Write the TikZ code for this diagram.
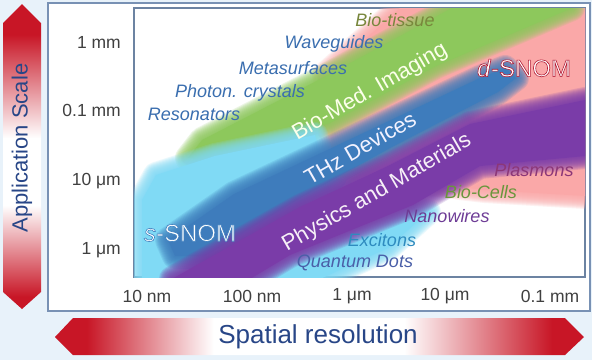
\documentclass[tikz,border=0pt]{standalone}
\usepackage{fontspec}
\setmainfont{Liberation Sans}

\definecolor{fond}{RGB}{232,242,250}
\definecolor{cadre}{RGB}{120,145,180}
\definecolor{rouge}{RGB}{200,22,38}
\definecolor{bleutitre}{RGB}{40,70,135}
\definecolor{rose}{RGB}{250,168,168}
\definecolor{vert}{RGB}{141,200,92}
\definecolor{bleuband}{RGB}{62,124,188}
\definecolor{mauve}{RGB}{122,60,168}
\definecolor{ciel}{RGB}{128,218,245}
\definecolor{bleuex}{RGB}{58,110,175}
\definecolor{olive}{RGB}{120,135,60}
\definecolor{vertex}{RGB}{105,150,60}
\definecolor{mauveex}{RGB}{110,60,150}
\definecolor{prune}{RGB}{140,55,120}

\pgfdeclareverticalshading{flechev}{100bp}{color(0bp)=(rouge); color(27bp)=(rouge);
  color(42bp)=(white); color(53bp)=(white); color(70bp)=(rouge); color(100bp)=(rouge)}
\pgfdeclarehorizontalshading{flecheh}{100bp}{color(0bp)=(rouge); color(28bp)=(rouge);
  color(40bp)=(white); color(58bp)=(white); color(72bp)=(rouge); color(100bp)=(rouge)}

%% texte blanc bordé : \borde{r g b}{texte}
\newcommand\borde[2]{\special{pdf:literal direct 2 Tr 0.6 w #1 RG}#2\special{pdf:literal direct 0 Tr}}

\begin{document}
\begin{tikzpicture}[x=1pt,y=-1pt,
  graduation/.style={font=\fontsize{17.5}{17.5}\selectfont, text=black!75, inner sep=0pt},
  exemple/.style={font=\fontsize{18}{18}\selectfont\itshape, inner sep=0pt},
  domaine/.style={font=\fontsize{22}{22}\selectfont, rotate=30, inner sep=0pt},
  sonde/.style={font=\fontsize{24}{24}\selectfont, text=white, inner sep=0pt},
  titre/.style={font=\fontsize{22}{22}\selectfont, text=bleutitre, inner sep=0pt}]

%% tache floue : \tache{couleur}{(a) -- (b) -- ...}
\newcommand\tache[2]{%
  \foreach \e in {2,4,...,26}
    \draw[#1, line width=\e pt, line join=round, opacity=.16] #2 -- cycle;
  \fill[#1] #2 -- cycle;}

\useasboundingbox (0,0) rectangle (592,360);
\fill[fond] (0,0) rectangle (592,360);

%% ================= cadres =================================================
\draw[cadre, line width=1.2pt, fill=white] (48,3) rectangle (590,311);
\draw[cadre!90!black, line width=1.5pt] (134,8) rectangle (585,277);

%% ================= bandes de couleur ======================================
\begin{scope}
  \clip (134,8) rectangle (585,277);
  \tache{rose}{(325,75) -- (400,8) -- (585,8) -- (585,196) -- (485,190) -- (335,172)}
  \tache{vert}{(188,158) -- (202,140) -- (330,74) -- (452,8) -- (572,8) -- (436,66)
    -- (330,123) -- (250,150) -- (202,160)}
  \tache{ciel}{(142,279) -- (142,200) -- (156,175) -- (215,156) -- (315,135)
    -- (330,190) -- (428,212) -- (388,248) -- (320,279)}
  \tache{bleuband}{(168,240) -- (234,194) -- (480,78) -- (505,68) -- (516,78)
    -- (498,92) -- (390,148) -- (300,198) -- (205,256) -- (175,256)}
  \tache{mauve}{(172,279) -- (300,207) -- (390,165) -- (470,124) -- (585,100)
    -- (585,156) -- (480,166) -- (413,205) -- (290,255) -- (250,279)}
\end{scope}

%% ================= textes des bandes ======================================
\node[domaine, text=green!12!yellow!8] (bio) at (370,92)  {Bio-Med. Imaging};
\node[domaine, text=blue!5]   (thz)  at (360,148) {THz Devices};
\node[domaine, text=violet!6] (phys) at (377,193) {Physics and Materials};
\node[sonde] (ssnom) at (190,233) {\borde{0.25 0.5 0.75}{\textit{s}-SNOM}};
\node[sonde] (dsnom) at (524,68)  {\borde{0.7 0.1 0.2}{\textit{d}-SNOM}};

%% ================= exemples ===============================================
\node[exemple, text=olive]   (tissu) at (395,20)  {Bio-tissue};
\node[exemple, text=bleuex]  (guide) at (334,44)  {Waveguides};
\node[exemple, text=bleuex]  (meta)  at (293,68)  {Metasurfaces};
\node[exemple, text=bleuex]  (crist) at (240,93)  {Photon. crystals};
\node[exemple, text=bleuex]  (reso)  at (194,114) {Resonators};
\node[exemple, text=prune]   (plasm) at (534,170) {Plasmons};
\node[exemple, text=vertex]  (cell)  at (481,192) {Bio-Cells};
\node[exemple, text=mauveex] (fil)   at (447,216) {Nanowires};
\node[exemple, text=bleuex!80!cyan] (exci) at (382,240) {Excitons};
\node[exemple, text=bleuex!70!mauveex] (qdot) at (355,263) {Quantum Dots};

%% ================= graduations ============================================
\node[graduation, anchor=east] (y1) at (121,42)  {1 mm};
\node[graduation, anchor=east] (y2) at (121,110) {0.1 mm};
\node[graduation, anchor=east] (y3) at (121,181) {10 μm};
\node[graduation, anchor=east] (y4) at (121,250) {1 μm};
\node[graduation] (x1) at (147,296) {10 nm};
\node[graduation] (x2) at (252,296) {100 nm};
\node[graduation] (x3) at (352,296) {1 μm};
\node[graduation] (x4) at (445,296) {10 μm};
\node[graduation] (x5) at (550,296) {0.1 mm};

%% ================= flèches des axes =======================================
\shade[shading=flechev] (22,4) -- (41,23) -- (41,292) -- (22,309) -- (3,292) -- (3,23) -- cycle;
\shade[shading=flecheh] (55,337) -- (73,318) -- (565,318) -- (584,337) -- (565,355) -- (73,355) -- cycle;
\node[titre, rotate=90] (echelle) at (22,148) {Application Scale};
\node[titre, font=\fontsize{26}{26}\selectfont] (resol) at (318,337) {Spatial resolution};
\end{tikzpicture}
\end{document}
